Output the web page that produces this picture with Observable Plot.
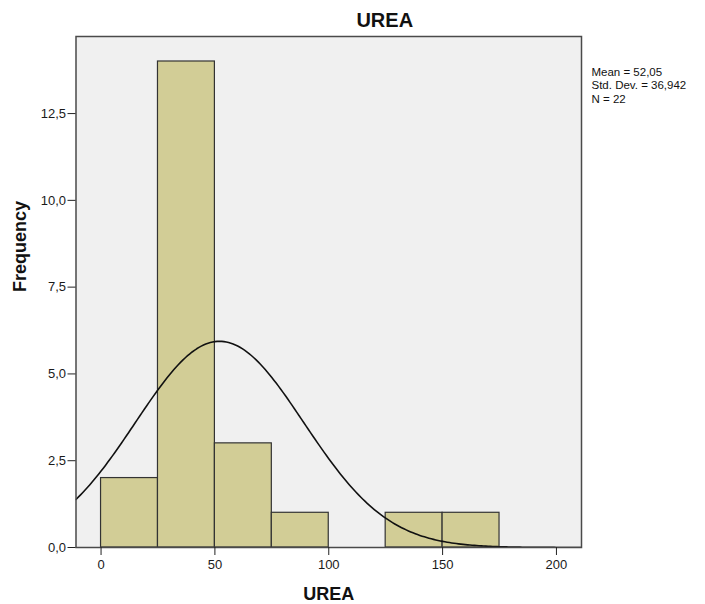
<!DOCTYPE html>
<html>
<head>
<meta charset="utf-8">
<script src="https://cdn.jsdelivr.net/npm/d3@7"></script>
<script src="https://cdn.jsdelivr.net/npm/@observablehq/plot@0.6"></script>
<style>
  html, body { margin: 0; padding: 0; background: #ffffff; }
  #chart svg { display: block; }
</style>
</head>
<body>
<div id="chart"></div>
<script>
// ---- data ----
const binStarts   = [0, 25, 50, 75, 100, 125, 150];
const binWidth    = 25;
const frequencies = [2, 14, 3, 1, 0, 1, 1];
const xTicks = [0, 50, 100, 150, 200];
const yTicks = [0, 2.5, 5, 7.5, 10, 12.5];
const statMean = 52.05;
const statSd = 36.942;
const statN = 22;
const statLines = ["Mean = 52,05", "Std. Dev. = 36,942", "N = 22"];
const chartTitle = "UREA";
const xLabel = "UREA";
const yLabel = "Frequency";

const bins = binStarts.map((s, i) => ({x1: s, x2: s + binWidth, count: frequencies[i]}))
  .filter(d => d.count > 0);

// fitted normal curve (from the stated mean, SD and N)
const xDomain = [-11, 211];
const curve = d3.range(xDomain[0], xDomain[1] + 0.5, 1).map(x => ({
  x,
  y: statN * binWidth / (statSd * Math.sqrt(2 * Math.PI)) *
     Math.exp(-0.5 * ((x - statMean) / statSd) ** 2)
}));

const comma = d => d.toFixed(1).replace(".", ",");
const font = "'Liberation Sans', Arial, sans-serif";

const chart = Plot.plot({
  width: 705,
  height: 604,
  marginLeft: 75.5,
  marginRight: 124,
  marginTop: 36,
  marginBottom: 57,
  style: {fontFamily: font, fontSize: "13px", color: "#1a1a1a", background: "#ffffff"},
  x: {domain: xDomain, ticks: xTicks, tickSize: 8, tickPadding: 4, label: null},
  y: {domain: [0, 14.72], ticks: yTicks, tickSize: 8, tickPadding: 2, tickFormat: comma, label: null},
  marks: [
    Plot.frame({fill: "#f0f0f0", stroke: "none"}),
    Plot.rectY(bins, {x1: "x1", x2: "x2", y: "count", fill: "#d2cd96", stroke: "#333333", strokeWidth: 1.2}),
    Plot.line(curve, {x: "x", y: "y", stroke: "#111111", strokeWidth: 1.6, clip: true}),
    Plot.frame({stroke: "#4a4a4a", strokeWidth: 1.5}),
    Plot.axisX({ticks: xTicks, tickSize: 8, tickPadding: 4, fontSize: 13, stroke: "#222"}),
    Plot.axisY({ticks: yTicks, tickSize: 8, tickPadding: 2, tickFormat: comma, fontSize: 13, stroke: "#222"}),
    Plot.text([chartTitle], {frameAnchor: "top", dx: 56, dy: -10, lineAnchor: "bottom",
      fontSize: 20, fontWeight: "bold", fill: "#111"}),
    Plot.text([xLabel], {frameAnchor: "bottom", dy: 52, lineAnchor: "bottom",
      fontSize: 18, fontWeight: "bold", fill: "#111"}),
    Plot.text([yLabel], {frameAnchor: "left", dx: -50.5, rotate: -90, lineAnchor: "bottom",
      fontSize: 18, fontWeight: "bold", fill: "#111"}),
    ...statLines.map((line, i) => Plot.text([line], {frameAnchor: "top-right", dx: 10, dy: 39 + i * 13.5,
      textAnchor: "start", lineAnchor: "bottom", fontSize: 11.5, fill: "#111"}))
  ]
});
document.getElementById("chart").appendChild(chart);
</script>
</body>
</html>
